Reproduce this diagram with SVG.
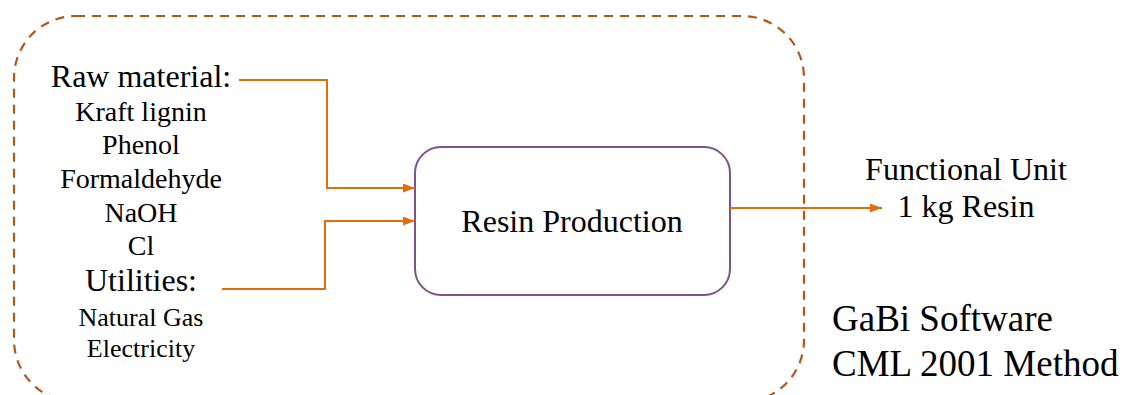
<svg xmlns="http://www.w3.org/2000/svg" width="1123" height="395" viewBox="0 0 1123 395">
<style>
text{font-family:"Liberation Serif","Times New Roman",serif;fill:#000;}
.big{font-size:32px;}
.mid{font-size:28px;}
.sm{font-size:26px;}
.lg{font-size:37px;}
.conn{fill:none;stroke:#E46C0A;stroke-width:2;}
</style>
<defs>
<marker id="arr" markerWidth="12" markerHeight="9" refX="12" refY="4.5" orient="auto" markerUnits="userSpaceOnUse">
<path d="M0,0 L12,4.5 L0,9 Z" fill="#E46C0A"/>
</marker>
</defs>
<rect width="1123" height="395" fill="#fff"/>
<g id="boundary">
<rect x="14" y="16" width="790" height="386" rx="62" fill="none" stroke="#B5561A" stroke-width="2.2" stroke-dasharray="9,7"/>
</g>
<g id="inputs">
<text class="big" x="141" y="87" text-anchor="middle">Raw material:</text>
<text class="mid" x="141" y="121" text-anchor="middle">Kraft lignin</text>
<text class="mid" x="141" y="154" text-anchor="middle">Phenol</text>
<text class="mid" x="141" y="188" text-anchor="middle">Formaldehyde</text>
<text class="mid" x="141" y="222" text-anchor="middle">NaOH</text>
<text class="mid" x="141" y="255" text-anchor="middle">Cl</text>
<text class="big" x="141" y="291" text-anchor="middle">Utilities:</text>
<text class="sm" x="141" y="326" text-anchor="middle">Natural Gas</text>
<text class="sm" x="141" y="357" text-anchor="middle">Electricity</text>
</g>
<g id="process">
<rect x="415" y="147" width="315" height="148" rx="26" fill="#fff" stroke="#80508F" stroke-width="2"/>
<text class="big" x="572" y="232" text-anchor="middle">Resin Production</text>
</g>
<g id="output">
<text class="big" x="966" y="180" text-anchor="middle">Functional Unit</text>
<text class="big" x="966" y="217" text-anchor="middle">1 kg Resin</text>
</g>
<g id="method">
<text class="lg" x="832" y="331">GaBi Software</text>
<text class="lg" x="832" y="376">CML 2001 Method</text>
</g>
<g id="connectors">
<path class="conn" d="M239,80 H327 V188 H415" marker-end="url(#arr)"/>
<path class="conn" d="M222,289 H325 V221 H415" marker-end="url(#arr)"/>
<path class="conn" d="M730,208 H882" marker-end="url(#arr)"/>
</g>
</svg>
